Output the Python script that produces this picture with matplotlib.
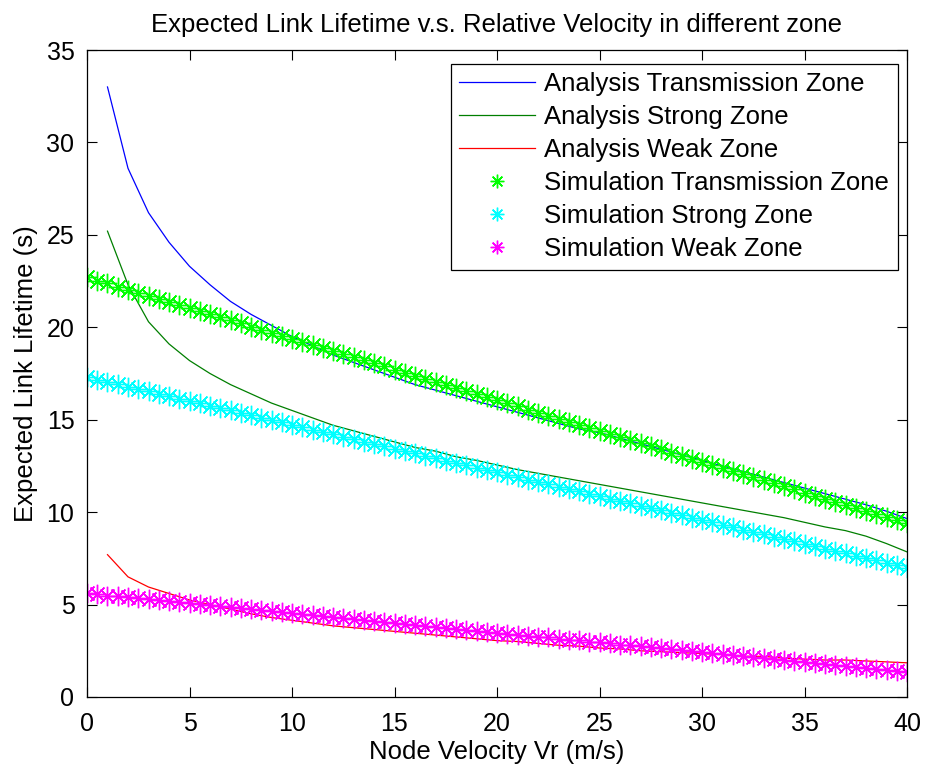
import numpy as np
import matplotlib
matplotlib.use("Agg")
import matplotlib.pyplot as plt

plt.rcParams["font.family"] = ["Liberation Sans", "DejaVu Sans"]

# Analysis curves (integer velocities 1..40)
v_ana = np.arange(1, 41)
ana_trans = [33.0, 28.6, 26.2, 24.6, 23.3, 22.3, 21.4, 20.7, 20.1, 19.5,
             19.0, 18.5, 18.1, 17.7, 17.3, 16.9, 16.6, 16.3, 16.0, 15.7,
             15.4, 15.1, 14.8, 14.5, 14.3, 14.0, 13.7, 13.4, 13.1, 12.8,
             12.5, 12.2, 11.9, 11.6, 11.3, 11.0, 10.7, 10.4, 10.05, 9.65]
ana_strong = [25.2, 22.3, 20.3, 19.1, 18.2, 17.5, 16.9, 16.4, 15.9, 15.5,
              15.1, 14.7, 14.4, 14.1, 13.8, 13.5, 13.3, 13.0, 12.8, 12.55,
              12.3, 12.1, 11.9, 11.7, 11.5, 11.3, 11.1, 10.9, 10.7, 10.5,
              10.3, 10.1, 9.9, 9.7, 9.45, 9.2, 9.0, 8.7, 8.3, 7.85]
ana_weak = [7.7, 6.5, 5.95, 5.6, 5.25, 5.0, 4.75, 4.5, 4.3, 4.15,
            4.0, 3.85, 3.75, 3.65, 3.55, 3.45, 3.35, 3.25, 3.15, 3.05,
            3.0, 2.9, 2.8, 2.75, 2.65, 2.6, 2.5, 2.45, 2.4, 2.35,
            2.3, 2.2, 2.2, 2.1, 2.05, 2.0, 2.0, 1.95, 1.9, 1.85]

# Simulation points (velocity 0..40 step 0.5)
v_sim = np.arange(0, 40.5, 0.5)
sim_trans = [22.70, 22.53, 22.37, 22.20, 22.04, 21.87, 21.70, 21.54, 21.37, 21.20,
             21.04, 20.87, 20.71, 20.54, 20.37, 20.21, 20.04, 19.87, 19.71, 19.54,
             19.38, 19.21, 19.04, 18.88, 18.71, 18.54, 18.38, 18.21, 18.05, 17.88,
             17.71, 17.55, 17.38, 17.21, 17.05, 16.88, 16.72, 16.55, 16.38, 16.22,
             16.05, 15.88, 15.72, 15.55, 15.39, 15.22, 15.05, 14.89, 14.72, 14.55,
             14.39, 14.22, 14.06, 13.89, 13.72, 13.56, 13.39, 13.22, 13.06, 12.89,
             12.73, 12.56, 12.39, 12.23, 12.06, 11.89, 11.73, 11.56, 11.40, 11.23,
             11.06, 10.90, 10.73, 10.56, 10.40, 10.23, 10.07, 9.90, 9.73, 9.57,
             9.40]
sim_strong = [17.30, 17.17, 17.04, 16.91, 16.79, 16.66, 16.53, 16.40, 16.27, 16.14,
              16.01, 15.88, 15.76, 15.63, 15.50, 15.37, 15.24, 15.11, 14.98, 14.85,
              14.73, 14.60, 14.47, 14.34, 14.21, 14.08, 13.95, 13.82, 13.70, 13.57,
              13.44, 13.31, 13.18, 13.05, 12.92, 12.79, 12.67, 12.54, 12.41, 12.28,
              12.15, 12.02, 11.89, 11.76, 11.64, 11.51, 11.38, 11.25, 11.12, 10.99,
              10.86, 10.73, 10.61, 10.48, 10.35, 10.22, 10.09, 9.96, 9.83, 9.70,
              9.58, 9.45, 9.32, 9.19, 9.06, 8.93, 8.80, 8.67, 8.55, 8.42,
              8.29, 8.16, 8.03, 7.90, 7.77, 7.64, 7.52, 7.39, 7.26, 7.13,
              7.00]
sim_weak = [5.60, 5.55, 5.49, 5.44, 5.39, 5.33, 5.28, 5.23, 5.18, 5.12,
            5.07, 5.02, 4.96, 4.91, 4.86, 4.81, 4.75, 4.70, 4.65, 4.59,
            4.54, 4.49, 4.43, 4.38, 4.33, 4.28, 4.22, 4.17, 4.12, 4.06,
            4.01, 3.96, 3.90, 3.85, 3.80, 3.75, 3.69, 3.64, 3.59, 3.53,
            3.48, 3.43, 3.37, 3.32, 3.27, 3.22, 3.16, 3.11, 3.06, 3.00,
            2.95, 2.90, 2.84, 2.79, 2.74, 2.69, 2.63, 2.58, 2.53, 2.47,
            2.42, 2.37, 2.31, 2.26, 2.21, 2.16, 2.10, 2.05, 2.00, 1.94,
            1.89, 1.84, 1.78, 1.73, 1.68, 1.63, 1.57, 1.52, 1.47, 1.41,
            1.36]

fig = plt.figure(figsize=(9.28, 7.72), dpi=100)
ax = fig.add_axes([87 / 928, 1 - 697 / 772, (907 - 87) / 928, (697 - 50) / 772])

ax.plot(v_ana, ana_trans, color="#0000ff", lw=0.9, label="Analysis Transmission Zone")
ax.plot(v_ana, ana_strong, color="#007f00", lw=0.9, label="Analysis Strong Zone")
ax.plot(v_ana, ana_weak, color="#ff0000", lw=0.9, label="Analysis Weak Zone")

star = (8, 2, 0)
ax.plot(v_sim, sim_trans, ls="none", marker=star, ms=14, mew=1.0, color="#00ff00",
        label="Simulation Transmission Zone")
ax.plot(v_sim, sim_strong, ls="none", marker=star, ms=14, mew=1.0, color="#00ffff",
        label="Simulation Strong Zone")
ax.plot(v_sim, sim_weak, ls="none", marker=star, ms=14, mew=1.0, color="#ff00ff",
        label="Simulation Weak Zone")

ax.set_xlim(0, 40)
ax.set_ylim(0, 35)
ax.set_xticks(range(0, 41, 5))
ax.set_yticks(range(0, 36, 5))
ax.tick_params(axis="both", direction="in", length=7, width=0.8, top=True, right=True,
               labelsize=18)
ax.tick_params(axis="x", pad=11)
ax.tick_params(axis="y", pad=9)
for s in ax.spines.values():
    s.set_linewidth(0.9)

ax.set_title("Expected Link Lifetime v.s. Relative Velocity in different zone",
             fontsize=18.5, pad=13)
ax.set_xlabel("Node Velocity Vr (m/s)", fontsize=18.5, labelpad=3)
ax.set_ylabel("Expected Link Lifetime (s)", fontsize=18.5, labelpad=6)

leg = ax.legend(loc="upper left", bbox_to_anchor=(451 / 928, 1 - 64 / 772),
                bbox_transform=fig.transFigure, fontsize=18.5, fancybox=False,
                edgecolor="black", framealpha=1, borderpad=0.33, labelspacing=0.35,
                handlelength=2.95, handletextpad=0.35, borderaxespad=0,
                markerscale=0.7)
leg.get_frame().set_linewidth(0.9)

fig.savefig("out.png", dpi=100)
